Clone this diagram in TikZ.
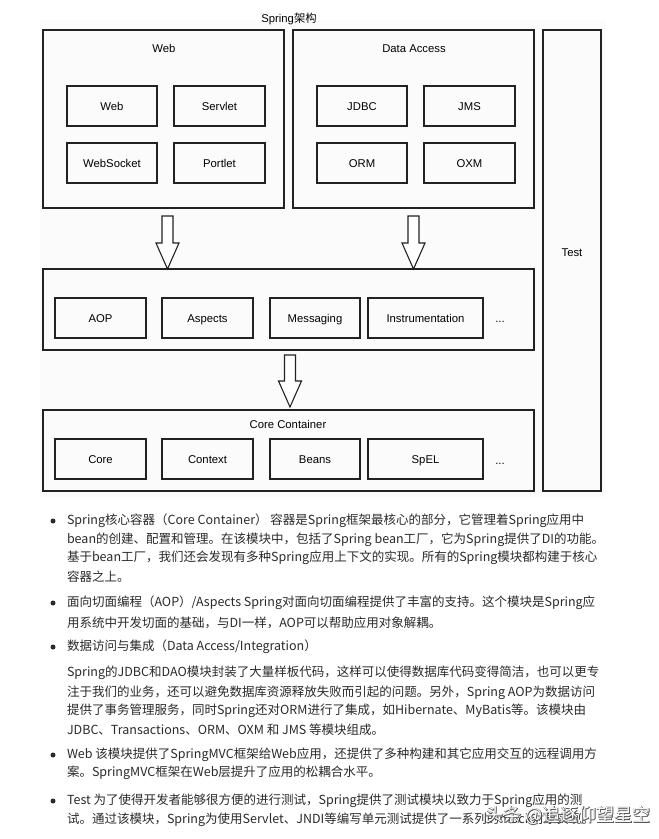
\documentclass[tikz,border=0pt]{standalone}
\usepackage{fontspec}
\setmainfont{Liberation Sans}
\newfontfamily\cjk{Noto Sans CJK SC}
\newfontfamily\cjkfat[FakeBold=4]{Noto Sans CJK SC}
\usetikzlibrary{calc}
\definecolor{linec}{HTML}{222222}
\definecolor{bodyc}{HTML}{2A2A2A}
\definecolor{bgc}{HTML}{FBFBFB}
\newcommand{\dfont}{\fontsize{11.3}{13}\selectfont}
\newcommand{\bfont}{\cjk\fontsize{12.5}{15}\selectfont}
\newcommand{\blockarrow}[2]{%
  \draw[blockarr] let \p1=(#1), \p2=(#2) in
   (\x1-5.5pt,\y1) -- (\x1+5.5pt,\y1) -- (\x1+5.5pt,\y2+26pt) -- (\x1+11.5pt,\y2+26pt)
   -- (\x2,\y2) -- (\x1-11.5pt,\y2+26pt) -- (\x1-5.5pt,\y2+26pt) -- cycle;}
\begin{document}
\begin{tikzpicture}[x=1pt,y=-1pt,
  every node/.style={inner sep=0pt,outer sep=0pt},
  group/.style={draw=linec,line width=1.1pt},
  modbox/.style={draw=linec,line width=1.1pt,font=\dfont,minimum height=40pt,text height=8.2pt,text depth=0pt},
  gtitle/.style={font=\dfont,text=black,text height=8.2pt,text depth=0pt},
  blockarr/.style={draw=linec,line width=1.1pt,fill=white,line join=miter},
  body/.style={font=\bfont,anchor=west,text=bodyc},
  dotb/.style={fill=bodyc,circle,minimum size=5pt}]
\useasboundingbox (0,0) rectangle (659,839);
\fill[white] (0,0) rectangle (659,839);
\fill[bgc] (40,20) rectangle (605,497);
% title
\node[gtitle] (title) at (289,18) {Spring{\cjk 架构}};
% Web group
\node[group,minimum width=241pt,minimum height=178pt] (webg) at (163.5,119) {};
\node[gtitle] (webt) at (164,48) {Web};
\node[modbox,minimum width=90pt] (web) at (112,106) {Web};
\node[modbox,minimum width=91pt] (servlet) at (219.5,106) {Servlet};
\node[modbox,minimum width=90pt] (websocket) at (112,163) {WebSocket};
\node[modbox,minimum width=91pt] (portlet) at (219.5,163) {Portlet};
% Data Access group
\node[group,minimum width=241pt,minimum height=178pt] (datag) at (413.5,119) {};
\node[gtitle] (datat) at (414,48) {Data Access};
\node[modbox,minimum width=90pt] (jdbc) at (362,106) {JDBC};
\node[modbox,minimum width=91pt] (jms) at (469.5,106) {JMS};
\node[modbox,minimum width=90pt] (orm) at (362,163) {ORM};
\node[modbox,minimum width=91pt] (oxm) at (469.5,163) {OXM};
% Test
\node[group,minimum width=58pt,minimum height=461pt] (testg) at (572,260.5) {};
\node[gtitle] (testt) at (572,252) {Test};
% middle group
\node[group,minimum width=491pt,minimum height=81pt] (midg) at (288.5,309.5) {};
\node[modbox,minimum width=91pt] (aop) at (100.5,318) {AOP};
\node[modbox,minimum width=91pt] (aspects) at (207.5,318) {Aspects};
\node[modbox,minimum width=90pt] (messaging) at (315,318) {Messaging};
\node[modbox,minimum width=115pt] (instr) at (425.5,318) {Instrumentation};
\node[gtitle] (mdots) at (500,318) {...};
% core group
\node[group,minimum width=491pt,minimum height=81pt] (coreg) at (288.5,450.5) {};
\node[gtitle] (coret) at (288,424) {Core Container};
\node[modbox,minimum width=91pt] (core) at (100.5,459) {Core};
\node[modbox,minimum width=91pt] (context) at (207.5,459) {Context};
\node[modbox,minimum width=90pt] (beans) at (315,459) {Beans};
\node[modbox,minimum width=115pt] (spel) at (425.5,459) {SpEL};
\node[gtitle] (cdots) at (500,460) {...};
% block arrows
\coordinate (a1s) at ($(webg.south)+(4,8)$);
\coordinate (a1e) at (a1s |- midg.north);
\coordinate (a2s) at ($(datag.south)+(0,8)$);
\coordinate (a2e) at (a2s |- midg.north);
\coordinate (a3s) at ($(midg.south)+(1.5,5)$);
\coordinate (a3e) at ($(a3s |- coreg.north)+(0,-3)$);
\blockarrow{a1s}{a1e}
\blockarrow{a2s}{a2e}
\blockarrow{a3s}{a3e}
% body text
\node[dotb] (b1) at (53,521) {};
\node[body] (l1) at (67,521) {Spring核心容器（Core Container） 容器是Spring框架最核心的部分，它管理着Spring应用中};
\node[body] (l2) at (67,540) {bean的创建、配置和管理。在该模块中，包括了Spring bean工厂，它为Spring提供了DI的功能。};
\node[body] (l3) at (67,558) {基于bean工厂，我们还会发现有多种Spring应用上下文的实现。所有的Spring模块都构建于核心};
\node[body] (l4) at (67,577) {容器之上。};
\node[dotb] (b2) at (53,603) {};
\node[body] (l5) at (67,603) {面向切面编程（AOP）/Aspects Spring对面向切面编程提供了丰富的支持。这个模块是Spring应};
\node[body] (l6) at (67,623) {用系统中开发切面的基础，与DI一样，AOP可以帮助应用对象解耦。};
\node[dotb] (b3) at (53,647) {};
\node[body] (l7) at (67,647) {数据访问与集成（Data Access/Integration）};
\node[body] (l8) at (67,673) {Spring的JDBC和DAO模块封装了大量样板代码，这样可以使得数据库代码变得简洁，也可以更专};
\node[body] (l9) at (67,693) {注于我们的业务，还可以避免数据库资源释放失败而引起的问题。另外，Spring AOP为数据访问};
\node[body] (l10) at (67,711) {提供了事务管理服务，同时Spring还对ORM进行了集成，如Hibernate、MyBatis等。该模块由};
\node[body] (l11) at (67,730) {JDBC、Transactions、ORM、OXM 和 JMS 等模块组成。};
\node[dotb] (b4) at (53,755) {};
\node[body] (l12) at (67,755) {Web 该模块提供了SpringMVC框架给Web应用，还提供了多种构建和其它应用交互的远程调用方};
\node[body] (l13) at (67,773) {案。SpringMVC框架在Web层提升了应用的松耦合水平。};
\node[dotb] (b5) at (53,801) {};
\node[body] (l14) at (67,801) {Test 为了使得开发者能够很方便的进行测试，Spring提供了测试模块以致力于Spring应用的测};
\node[body] (l15) at (67,820) {试。通过该模块，Spring为使用Servlet、JNDI等编写单元测试提供了一系列的mock对象实现。};
% watermark
\node[font=\cjkfat\fontsize{18}{20}\selectfont,text=black!65] (wmshadow) at (568,815.5) {头条 @追逐仰望星空};
\node[font=\cjk\fontsize{18}{20}\selectfont,text=white] (wm) at (wmshadow) {头条 @追逐仰望星空};
\end{tikzpicture}
\end{document}
